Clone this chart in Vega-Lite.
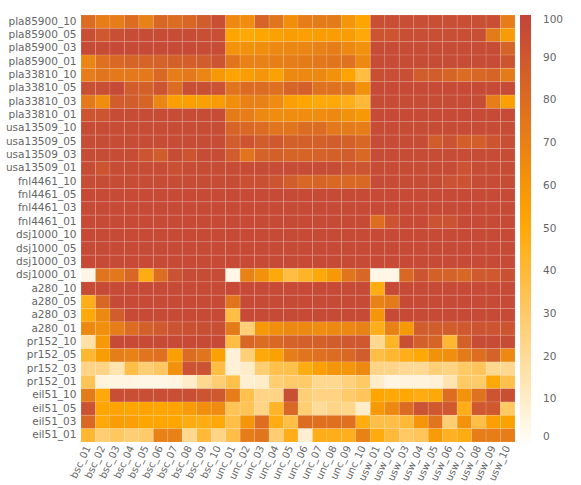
{"$schema":"https://vega.github.io/schema/vega-lite/v6.json","width":434,"height":427,"padding":{"left":5,"top":14,"right":5,"bottom":5},"config":{"view":{"stroke":null},"font":"DejaVu Sans"},
"data":{"values":[
{"r":"pla85900_10","c":"bsc_01","v":80},{"r":"pla85900_10","c":"bsc_02","v":72},{"r":"pla85900_10","c":"bsc_03","v":72},{"r":"pla85900_10","c":"bsc_04","v":80},{"r":"pla85900_10","c":"bsc_05","v":70},{"r":"pla85900_10","c":"bsc_06","v":83},{"r":"pla85900_10","c":"bsc_07","v":80},{"r":"pla85900_10","c":"bsc_08","v":83},{"r":"pla85900_10","c":"bsc_09","v":88},{"r":"pla85900_10","c":"bsc_10","v":95},
{"r":"pla85900_10","c":"unc_01","v":66},{"r":"pla85900_10","c":"unc_02","v":64},{"r":"pla85900_10","c":"unc_03","v":84},{"r":"pla85900_10","c":"unc_04","v":76},{"r":"pla85900_10","c":"unc_05","v":63},{"r":"pla85900_10","c":"unc_06","v":72},{"r":"pla85900_10","c":"unc_07","v":73},{"r":"pla85900_10","c":"unc_08","v":73},{"r":"pla85900_10","c":"unc_09","v":60},{"r":"pla85900_10","c":"unc_10","v":52},
{"r":"pla85900_10","c":"usw_01","v":95},{"r":"pla85900_10","c":"usw_02","v":95},{"r":"pla85900_10","c":"usw_03","v":95},{"r":"pla85900_10","c":"usw_04","v":95},{"r":"pla85900_10","c":"usw_05","v":95},{"r":"pla85900_10","c":"usw_06","v":95},{"r":"pla85900_10","c":"usw_07","v":95},{"r":"pla85900_10","c":"usw_08","v":95},{"r":"pla85900_10","c":"usw_09","v":95},{"r":"pla85900_10","c":"usw_10","v":72},
{"r":"pla85900_05","c":"bsc_01","v":95},{"r":"pla85900_05","c":"bsc_02","v":90},{"r":"pla85900_05","c":"bsc_03","v":95},{"r":"pla85900_05","c":"bsc_04","v":96},{"r":"pla85900_05","c":"bsc_05","v":96},{"r":"pla85900_05","c":"bsc_06","v":96},{"r":"pla85900_05","c":"bsc_07","v":96},{"r":"pla85900_05","c":"bsc_08","v":96},{"r":"pla85900_05","c":"bsc_09","v":95},{"r":"pla85900_05","c":"bsc_10","v":95},
{"r":"pla85900_05","c":"unc_01","v":52},{"r":"pla85900_05","c":"unc_02","v":50},{"r":"pla85900_05","c":"unc_03","v":52},{"r":"pla85900_05","c":"unc_04","v":54},{"r":"pla85900_05","c":"unc_05","v":56},{"r":"pla85900_05","c":"unc_06","v":55},{"r":"pla85900_05","c":"unc_07","v":56},{"r":"pla85900_05","c":"unc_08","v":56},{"r":"pla85900_05","c":"unc_09","v":56},{"r":"pla85900_05","c":"unc_10","v":50},
{"r":"pla85900_05","c":"usw_01","v":92},{"r":"pla85900_05","c":"usw_02","v":92},{"r":"pla85900_05","c":"usw_03","v":95},{"r":"pla85900_05","c":"usw_04","v":95},{"r":"pla85900_05","c":"usw_05","v":95},{"r":"pla85900_05","c":"usw_06","v":95},{"r":"pla85900_05","c":"usw_07","v":95},{"r":"pla85900_05","c":"usw_08","v":95},{"r":"pla85900_05","c":"usw_09","v":73},{"r":"pla85900_05","c":"usw_10","v":57},
{"r":"pla85900_03","c":"bsc_01","v":97},{"r":"pla85900_03","c":"bsc_02","v":96},{"r":"pla85900_03","c":"bsc_03","v":97},{"r":"pla85900_03","c":"bsc_04","v":97},{"r":"pla85900_03","c":"bsc_05","v":97},{"r":"pla85900_03","c":"bsc_06","v":97},{"r":"pla85900_03","c":"bsc_07","v":97},{"r":"pla85900_03","c":"bsc_08","v":97},{"r":"pla85900_03","c":"bsc_09","v":96},{"r":"pla85900_03","c":"bsc_10","v":96},
{"r":"pla85900_03","c":"unc_01","v":61},{"r":"pla85900_03","c":"unc_02","v":62},{"r":"pla85900_03","c":"unc_03","v":63},{"r":"pla85900_03","c":"unc_04","v":66},{"r":"pla85900_03","c":"unc_05","v":67},{"r":"pla85900_03","c":"unc_06","v":68},{"r":"pla85900_03","c":"unc_07","v":70},{"r":"pla85900_03","c":"unc_08","v":72},{"r":"pla85900_03","c":"unc_09","v":66},{"r":"pla85900_03","c":"unc_10","v":62},
{"r":"pla85900_03","c":"usw_01","v":96},{"r":"pla85900_03","c":"usw_02","v":96},{"r":"pla85900_03","c":"usw_03","v":96},{"r":"pla85900_03","c":"usw_04","v":96},{"r":"pla85900_03","c":"usw_05","v":96},{"r":"pla85900_03","c":"usw_06","v":96},{"r":"pla85900_03","c":"usw_07","v":96},{"r":"pla85900_03","c":"usw_08","v":96},{"r":"pla85900_03","c":"usw_09","v":96},{"r":"pla85900_03","c":"usw_10","v":84},
{"r":"pla85900_01","c":"bsc_01","v":68},{"r":"pla85900_01","c":"bsc_02","v":78},{"r":"pla85900_01","c":"bsc_03","v":82},{"r":"pla85900_01","c":"bsc_04","v":84},{"r":"pla85900_01","c":"bsc_05","v":84},{"r":"pla85900_01","c":"bsc_06","v":85},{"r":"pla85900_01","c":"bsc_07","v":86},{"r":"pla85900_01","c":"bsc_08","v":87},{"r":"pla85900_01","c":"bsc_09","v":88},{"r":"pla85900_01","c":"bsc_10","v":92},
{"r":"pla85900_01","c":"unc_01","v":76},{"r":"pla85900_01","c":"unc_02","v":70},{"r":"pla85900_01","c":"unc_03","v":70},{"r":"pla85900_01","c":"unc_04","v":71},{"r":"pla85900_01","c":"unc_05","v":72},{"r":"pla85900_01","c":"unc_06","v":73},{"r":"pla85900_01","c":"unc_07","v":75},{"r":"pla85900_01","c":"unc_08","v":76},{"r":"pla85900_01","c":"unc_09","v":77},{"r":"pla85900_01","c":"unc_10","v":66},
{"r":"pla85900_01","c":"usw_01","v":96},{"r":"pla85900_01","c":"usw_02","v":96},{"r":"pla85900_01","c":"usw_03","v":96},{"r":"pla85900_01","c":"usw_04","v":96},{"r":"pla85900_01","c":"usw_05","v":96},{"r":"pla85900_01","c":"usw_06","v":96},{"r":"pla85900_01","c":"usw_07","v":96},{"r":"pla85900_01","c":"usw_08","v":96},{"r":"pla85900_01","c":"usw_09","v":96},{"r":"pla85900_01","c":"usw_10","v":92},
{"r":"pla33810_10","c":"bsc_01","v":72},{"r":"pla33810_10","c":"bsc_02","v":76},{"r":"pla33810_10","c":"bsc_03","v":74},{"r":"pla33810_10","c":"bsc_04","v":74},{"r":"pla33810_10","c":"bsc_05","v":74},{"r":"pla33810_10","c":"bsc_06","v":82},{"r":"pla33810_10","c":"bsc_07","v":72},{"r":"pla33810_10","c":"bsc_08","v":74},{"r":"pla33810_10","c":"bsc_09","v":68},{"r":"pla33810_10","c":"bsc_10","v":58},
{"r":"pla33810_10","c":"unc_01","v":53},{"r":"pla33810_10","c":"unc_02","v":56},{"r":"pla33810_10","c":"unc_03","v":60},{"r":"pla33810_10","c":"unc_04","v":54},{"r":"pla33810_10","c":"unc_05","v":66},{"r":"pla33810_10","c":"unc_06","v":66},{"r":"pla33810_10","c":"unc_07","v":66},{"r":"pla33810_10","c":"unc_08","v":62},{"r":"pla33810_10","c":"unc_09","v":53},{"r":"pla33810_10","c":"unc_10","v":38},
{"r":"pla33810_10","c":"usw_01","v":95},{"r":"pla33810_10","c":"usw_02","v":95},{"r":"pla33810_10","c":"usw_03","v":95},{"r":"pla33810_10","c":"usw_04","v":88},{"r":"pla33810_10","c":"usw_05","v":88},{"r":"pla33810_10","c":"usw_06","v":84},{"r":"pla33810_10","c":"usw_07","v":80},{"r":"pla33810_10","c":"usw_08","v":83},{"r":"pla33810_10","c":"usw_09","v":84},{"r":"pla33810_10","c":"usw_10","v":73},
{"r":"pla33810_05","c":"bsc_01","v":95},{"r":"pla33810_05","c":"bsc_02","v":95},{"r":"pla33810_05","c":"bsc_03","v":97},{"r":"pla33810_05","c":"bsc_04","v":88},{"r":"pla33810_05","c":"bsc_05","v":86},{"r":"pla33810_05","c":"bsc_06","v":92},{"r":"pla33810_05","c":"bsc_07","v":80},{"r":"pla33810_05","c":"bsc_08","v":95},{"r":"pla33810_05","c":"bsc_09","v":95},{"r":"pla33810_05","c":"bsc_10","v":93},
{"r":"pla33810_05","c":"unc_01","v":76},{"r":"pla33810_05","c":"unc_02","v":80},{"r":"pla33810_05","c":"unc_03","v":80},{"r":"pla33810_05","c":"unc_04","v":78},{"r":"pla33810_05","c":"unc_05","v":84},{"r":"pla33810_05","c":"unc_06","v":86},{"r":"pla33810_05","c":"unc_07","v":77},{"r":"pla33810_05","c":"unc_08","v":77},{"r":"pla33810_05","c":"unc_09","v":76},{"r":"pla33810_05","c":"unc_10","v":62},
{"r":"pla33810_05","c":"usw_01","v":97},{"r":"pla33810_05","c":"usw_02","v":97},{"r":"pla33810_05","c":"usw_03","v":97},{"r":"pla33810_05","c":"usw_04","v":97},{"r":"pla33810_05","c":"usw_05","v":97},{"r":"pla33810_05","c":"usw_06","v":97},{"r":"pla33810_05","c":"usw_07","v":97},{"r":"pla33810_05","c":"usw_08","v":97},{"r":"pla33810_05","c":"usw_09","v":97},{"r":"pla33810_05","c":"usw_10","v":97},
{"r":"pla33810_03","c":"bsc_01","v":74},{"r":"pla33810_03","c":"bsc_02","v":64},{"r":"pla33810_03","c":"bsc_03","v":88},{"r":"pla33810_03","c":"bsc_04","v":88},{"r":"pla33810_03","c":"bsc_05","v":84},{"r":"pla33810_03","c":"bsc_06","v":68},{"r":"pla33810_03","c":"bsc_07","v":55},{"r":"pla33810_03","c":"bsc_08","v":55},{"r":"pla33810_03","c":"bsc_09","v":55},{"r":"pla33810_03","c":"bsc_10","v":57},
{"r":"pla33810_03","c":"unc_01","v":63},{"r":"pla33810_03","c":"unc_02","v":70},{"r":"pla33810_03","c":"unc_03","v":70},{"r":"pla33810_03","c":"unc_04","v":65},{"r":"pla33810_03","c":"unc_05","v":55},{"r":"pla33810_03","c":"unc_06","v":52},{"r":"pla33810_03","c":"unc_07","v":50},{"r":"pla33810_03","c":"unc_08","v":50},{"r":"pla33810_03","c":"unc_09","v":47},{"r":"pla33810_03","c":"unc_10","v":40},
{"r":"pla33810_03","c":"usw_01","v":96},{"r":"pla33810_03","c":"usw_02","v":96},{"r":"pla33810_03","c":"usw_03","v":96},{"r":"pla33810_03","c":"usw_04","v":96},{"r":"pla33810_03","c":"usw_05","v":96},{"r":"pla33810_03","c":"usw_06","v":96},{"r":"pla33810_03","c":"usw_07","v":96},{"r":"pla33810_03","c":"usw_08","v":96},{"r":"pla33810_03","c":"usw_09","v":72},{"r":"pla33810_03","c":"usw_10","v":55},
{"r":"pla33810_01","c":"bsc_01","v":92},{"r":"pla33810_01","c":"bsc_02","v":92},{"r":"pla33810_01","c":"bsc_03","v":96},{"r":"pla33810_01","c":"bsc_04","v":96},{"r":"pla33810_01","c":"bsc_05","v":96},{"r":"pla33810_01","c":"bsc_06","v":96},{"r":"pla33810_01","c":"bsc_07","v":96},{"r":"pla33810_01","c":"bsc_08","v":96},{"r":"pla33810_01","c":"bsc_09","v":96},{"r":"pla33810_01","c":"bsc_10","v":96},
{"r":"pla33810_01","c":"unc_01","v":73},{"r":"pla33810_01","c":"unc_02","v":72},{"r":"pla33810_01","c":"unc_03","v":66},{"r":"pla33810_01","c":"unc_04","v":64},{"r":"pla33810_01","c":"unc_05","v":64},{"r":"pla33810_01","c":"unc_06","v":64},{"r":"pla33810_01","c":"unc_07","v":64},{"r":"pla33810_01","c":"unc_08","v":66},{"r":"pla33810_01","c":"unc_09","v":62},{"r":"pla33810_01","c":"unc_10","v":58},
{"r":"pla33810_01","c":"usw_01","v":97},{"r":"pla33810_01","c":"usw_02","v":97},{"r":"pla33810_01","c":"usw_03","v":97},{"r":"pla33810_01","c":"usw_04","v":97},{"r":"pla33810_01","c":"usw_05","v":97},{"r":"pla33810_01","c":"usw_06","v":97},{"r":"pla33810_01","c":"usw_07","v":97},{"r":"pla33810_01","c":"usw_08","v":97},{"r":"pla33810_01","c":"usw_09","v":97},{"r":"pla33810_01","c":"usw_10","v":97},
{"r":"usa13509_10","c":"bsc_01","v":96},{"r":"usa13509_10","c":"bsc_02","v":96},{"r":"usa13509_10","c":"bsc_03","v":96},{"r":"usa13509_10","c":"bsc_04","v":96},{"r":"usa13509_10","c":"bsc_05","v":96},{"r":"usa13509_10","c":"bsc_06","v":96},{"r":"usa13509_10","c":"bsc_07","v":96},{"r":"usa13509_10","c":"bsc_08","v":96},{"r":"usa13509_10","c":"bsc_09","v":96},{"r":"usa13509_10","c":"bsc_10","v":96},
{"r":"usa13509_10","c":"unc_01","v":84},{"r":"usa13509_10","c":"unc_02","v":82},{"r":"usa13509_10","c":"unc_03","v":80},{"r":"usa13509_10","c":"unc_04","v":76},{"r":"usa13509_10","c":"unc_05","v":76},{"r":"usa13509_10","c":"unc_06","v":80},{"r":"usa13509_10","c":"unc_07","v":80},{"r":"usa13509_10","c":"unc_08","v":74},{"r":"usa13509_10","c":"unc_09","v":73},{"r":"usa13509_10","c":"unc_10","v":72},
{"r":"usa13509_10","c":"usw_01","v":96},{"r":"usa13509_10","c":"usw_02","v":96},{"r":"usa13509_10","c":"usw_03","v":96},{"r":"usa13509_10","c":"usw_04","v":96},{"r":"usa13509_10","c":"usw_05","v":96},{"r":"usa13509_10","c":"usw_06","v":96},{"r":"usa13509_10","c":"usw_07","v":96},{"r":"usa13509_10","c":"usw_08","v":96},{"r":"usa13509_10","c":"usw_09","v":96},{"r":"usa13509_10","c":"usw_10","v":96},
{"r":"usa13509_05","c":"bsc_01","v":96},{"r":"usa13509_05","c":"bsc_02","v":96},{"r":"usa13509_05","c":"bsc_03","v":96},{"r":"usa13509_05","c":"bsc_04","v":96},{"r":"usa13509_05","c":"bsc_05","v":96},{"r":"usa13509_05","c":"bsc_06","v":96},{"r":"usa13509_05","c":"bsc_07","v":96},{"r":"usa13509_05","c":"bsc_08","v":96},{"r":"usa13509_05","c":"bsc_09","v":96},{"r":"usa13509_05","c":"bsc_10","v":96},
{"r":"usa13509_05","c":"unc_01","v":88},{"r":"usa13509_05","c":"unc_02","v":92},{"r":"usa13509_05","c":"unc_03","v":88},{"r":"usa13509_05","c":"unc_04","v":90},{"r":"usa13509_05","c":"unc_05","v":86},{"r":"usa13509_05","c":"unc_06","v":86},{"r":"usa13509_05","c":"unc_07","v":86},{"r":"usa13509_05","c":"unc_08","v":88},{"r":"usa13509_05","c":"unc_09","v":86},{"r":"usa13509_05","c":"unc_10","v":83},
{"r":"usa13509_05","c":"usw_01","v":96},{"r":"usa13509_05","c":"usw_02","v":96},{"r":"usa13509_05","c":"usw_03","v":96},{"r":"usa13509_05","c":"usw_04","v":96},{"r":"usa13509_05","c":"usw_05","v":88},{"r":"usa13509_05","c":"usw_06","v":93},{"r":"usa13509_05","c":"usw_07","v":87},{"r":"usa13509_05","c":"usw_08","v":87},{"r":"usa13509_05","c":"usw_09","v":92},{"r":"usa13509_05","c":"usw_10","v":95},
{"r":"usa13509_03","c":"bsc_01","v":96},{"r":"usa13509_03","c":"bsc_02","v":96},{"r":"usa13509_03","c":"bsc_03","v":96},{"r":"usa13509_03","c":"bsc_04","v":96},{"r":"usa13509_03","c":"bsc_05","v":92},{"r":"usa13509_03","c":"bsc_06","v":88},{"r":"usa13509_03","c":"bsc_07","v":96},{"r":"usa13509_03","c":"bsc_08","v":92},{"r":"usa13509_03","c":"bsc_09","v":96},{"r":"usa13509_03","c":"bsc_10","v":96},
{"r":"usa13509_03","c":"unc_01","v":88},{"r":"usa13509_03","c":"unc_02","v":76},{"r":"usa13509_03","c":"unc_03","v":85},{"r":"usa13509_03","c":"unc_04","v":86},{"r":"usa13509_03","c":"unc_05","v":84},{"r":"usa13509_03","c":"unc_06","v":84},{"r":"usa13509_03","c":"unc_07","v":85},{"r":"usa13509_03","c":"unc_08","v":86},{"r":"usa13509_03","c":"unc_09","v":88},{"r":"usa13509_03","c":"unc_10","v":82},
{"r":"usa13509_03","c":"usw_01","v":96},{"r":"usa13509_03","c":"usw_02","v":96},{"r":"usa13509_03","c":"usw_03","v":96},{"r":"usa13509_03","c":"usw_04","v":96},{"r":"usa13509_03","c":"usw_05","v":96},{"r":"usa13509_03","c":"usw_06","v":96},{"r":"usa13509_03","c":"usw_07","v":96},{"r":"usa13509_03","c":"usw_08","v":96},{"r":"usa13509_03","c":"usw_09","v":96},{"r":"usa13509_03","c":"usw_10","v":96},
{"r":"usa13509_01","c":"bsc_01","v":96},{"r":"usa13509_01","c":"bsc_02","v":92},{"r":"usa13509_01","c":"bsc_03","v":96},{"r":"usa13509_01","c":"bsc_04","v":96},{"r":"usa13509_01","c":"bsc_05","v":96},{"r":"usa13509_01","c":"bsc_06","v":96},{"r":"usa13509_01","c":"bsc_07","v":94},{"r":"usa13509_01","c":"bsc_08","v":96},{"r":"usa13509_01","c":"bsc_09","v":96},{"r":"usa13509_01","c":"bsc_10","v":96},
{"r":"usa13509_01","c":"unc_01","v":96},{"r":"usa13509_01","c":"unc_02","v":96},{"r":"usa13509_01","c":"unc_03","v":96},{"r":"usa13509_01","c":"unc_04","v":96},{"r":"usa13509_01","c":"unc_05","v":96},{"r":"usa13509_01","c":"unc_06","v":96},{"r":"usa13509_01","c":"unc_07","v":96},{"r":"usa13509_01","c":"unc_08","v":96},{"r":"usa13509_01","c":"unc_09","v":92},{"r":"usa13509_01","c":"unc_10","v":92},
{"r":"usa13509_01","c":"usw_01","v":96},{"r":"usa13509_01","c":"usw_02","v":96},{"r":"usa13509_01","c":"usw_03","v":96},{"r":"usa13509_01","c":"usw_04","v":96},{"r":"usa13509_01","c":"usw_05","v":96},{"r":"usa13509_01","c":"usw_06","v":96},{"r":"usa13509_01","c":"usw_07","v":93},{"r":"usa13509_01","c":"usw_08","v":96},{"r":"usa13509_01","c":"usw_09","v":96},{"r":"usa13509_01","c":"usw_10","v":96},
{"r":"fnl4461_10","c":"bsc_01","v":96},{"r":"fnl4461_10","c":"bsc_02","v":96},{"r":"fnl4461_10","c":"bsc_03","v":96},{"r":"fnl4461_10","c":"bsc_04","v":96},{"r":"fnl4461_10","c":"bsc_05","v":96},{"r":"fnl4461_10","c":"bsc_06","v":96},{"r":"fnl4461_10","c":"bsc_07","v":96},{"r":"fnl4461_10","c":"bsc_08","v":96},{"r":"fnl4461_10","c":"bsc_09","v":96},{"r":"fnl4461_10","c":"bsc_10","v":96},
{"r":"fnl4461_10","c":"unc_01","v":96},{"r":"fnl4461_10","c":"unc_02","v":94},{"r":"fnl4461_10","c":"unc_03","v":94},{"r":"fnl4461_10","c":"unc_04","v":92},{"r":"fnl4461_10","c":"unc_05","v":88},{"r":"fnl4461_10","c":"unc_06","v":83},{"r":"fnl4461_10","c":"unc_07","v":84},{"r":"fnl4461_10","c":"unc_08","v":82},{"r":"fnl4461_10","c":"unc_09","v":82},{"r":"fnl4461_10","c":"unc_10","v":82},
{"r":"fnl4461_10","c":"usw_01","v":96},{"r":"fnl4461_10","c":"usw_02","v":96},{"r":"fnl4461_10","c":"usw_03","v":96},{"r":"fnl4461_10","c":"usw_04","v":96},{"r":"fnl4461_10","c":"usw_05","v":96},{"r":"fnl4461_10","c":"usw_06","v":93},{"r":"fnl4461_10","c":"usw_07","v":93},{"r":"fnl4461_10","c":"usw_08","v":96},{"r":"fnl4461_10","c":"usw_09","v":96},{"r":"fnl4461_10","c":"usw_10","v":96},
{"r":"fnl4461_05","c":"bsc_01","v":97},{"r":"fnl4461_05","c":"bsc_02","v":97},{"r":"fnl4461_05","c":"bsc_03","v":97},{"r":"fnl4461_05","c":"bsc_04","v":97},{"r":"fnl4461_05","c":"bsc_05","v":97},{"r":"fnl4461_05","c":"bsc_06","v":97},{"r":"fnl4461_05","c":"bsc_07","v":97},{"r":"fnl4461_05","c":"bsc_08","v":97},{"r":"fnl4461_05","c":"bsc_09","v":97},{"r":"fnl4461_05","c":"bsc_10","v":97},
{"r":"fnl4461_05","c":"unc_01","v":97},{"r":"fnl4461_05","c":"unc_02","v":97},{"r":"fnl4461_05","c":"unc_03","v":97},{"r":"fnl4461_05","c":"unc_04","v":97},{"r":"fnl4461_05","c":"unc_05","v":97},{"r":"fnl4461_05","c":"unc_06","v":97},{"r":"fnl4461_05","c":"unc_07","v":97},{"r":"fnl4461_05","c":"unc_08","v":97},{"r":"fnl4461_05","c":"unc_09","v":97},{"r":"fnl4461_05","c":"unc_10","v":97},
{"r":"fnl4461_05","c":"usw_01","v":97},{"r":"fnl4461_05","c":"usw_02","v":97},{"r":"fnl4461_05","c":"usw_03","v":97},{"r":"fnl4461_05","c":"usw_04","v":97},{"r":"fnl4461_05","c":"usw_05","v":97},{"r":"fnl4461_05","c":"usw_06","v":97},{"r":"fnl4461_05","c":"usw_07","v":97},{"r":"fnl4461_05","c":"usw_08","v":97},{"r":"fnl4461_05","c":"usw_09","v":97},{"r":"fnl4461_05","c":"usw_10","v":97},
{"r":"fnl4461_03","c":"bsc_01","v":97},{"r":"fnl4461_03","c":"bsc_02","v":97},{"r":"fnl4461_03","c":"bsc_03","v":97},{"r":"fnl4461_03","c":"bsc_04","v":97},{"r":"fnl4461_03","c":"bsc_05","v":97},{"r":"fnl4461_03","c":"bsc_06","v":97},{"r":"fnl4461_03","c":"bsc_07","v":97},{"r":"fnl4461_03","c":"bsc_08","v":97},{"r":"fnl4461_03","c":"bsc_09","v":97},{"r":"fnl4461_03","c":"bsc_10","v":97},
{"r":"fnl4461_03","c":"unc_01","v":97},{"r":"fnl4461_03","c":"unc_02","v":97},{"r":"fnl4461_03","c":"unc_03","v":97},{"r":"fnl4461_03","c":"unc_04","v":97},{"r":"fnl4461_03","c":"unc_05","v":97},{"r":"fnl4461_03","c":"unc_06","v":97},{"r":"fnl4461_03","c":"unc_07","v":97},{"r":"fnl4461_03","c":"unc_08","v":97},{"r":"fnl4461_03","c":"unc_09","v":97},{"r":"fnl4461_03","c":"unc_10","v":97},
{"r":"fnl4461_03","c":"usw_01","v":97},{"r":"fnl4461_03","c":"usw_02","v":97},{"r":"fnl4461_03","c":"usw_03","v":97},{"r":"fnl4461_03","c":"usw_04","v":97},{"r":"fnl4461_03","c":"usw_05","v":97},{"r":"fnl4461_03","c":"usw_06","v":97},{"r":"fnl4461_03","c":"usw_07","v":97},{"r":"fnl4461_03","c":"usw_08","v":97},{"r":"fnl4461_03","c":"usw_09","v":97},{"r":"fnl4461_03","c":"usw_10","v":97},
{"r":"fnl4461_01","c":"bsc_01","v":97},{"r":"fnl4461_01","c":"bsc_02","v":97},{"r":"fnl4461_01","c":"bsc_03","v":97},{"r":"fnl4461_01","c":"bsc_04","v":97},{"r":"fnl4461_01","c":"bsc_05","v":97},{"r":"fnl4461_01","c":"bsc_06","v":97},{"r":"fnl4461_01","c":"bsc_07","v":97},{"r":"fnl4461_01","c":"bsc_08","v":97},{"r":"fnl4461_01","c":"bsc_09","v":97},{"r":"fnl4461_01","c":"bsc_10","v":97},
{"r":"fnl4461_01","c":"unc_01","v":97},{"r":"fnl4461_01","c":"unc_02","v":97},{"r":"fnl4461_01","c":"unc_03","v":97},{"r":"fnl4461_01","c":"unc_04","v":97},{"r":"fnl4461_01","c":"unc_05","v":97},{"r":"fnl4461_01","c":"unc_06","v":97},{"r":"fnl4461_01","c":"unc_07","v":97},{"r":"fnl4461_01","c":"unc_08","v":97},{"r":"fnl4461_01","c":"unc_09","v":97},{"r":"fnl4461_01","c":"unc_10","v":97},
{"r":"fnl4461_01","c":"usw_01","v":79},{"r":"fnl4461_01","c":"usw_02","v":92},{"r":"fnl4461_01","c":"usw_03","v":97},{"r":"fnl4461_01","c":"usw_04","v":97},{"r":"fnl4461_01","c":"usw_05","v":93},{"r":"fnl4461_01","c":"usw_06","v":93},{"r":"fnl4461_01","c":"usw_07","v":97},{"r":"fnl4461_01","c":"usw_08","v":97},{"r":"fnl4461_01","c":"usw_09","v":97},{"r":"fnl4461_01","c":"usw_10","v":97},
{"r":"dsj1000_10","c":"bsc_01","v":97},{"r":"dsj1000_10","c":"bsc_02","v":97},{"r":"dsj1000_10","c":"bsc_03","v":97},{"r":"dsj1000_10","c":"bsc_04","v":97},{"r":"dsj1000_10","c":"bsc_05","v":97},{"r":"dsj1000_10","c":"bsc_06","v":97},{"r":"dsj1000_10","c":"bsc_07","v":97},{"r":"dsj1000_10","c":"bsc_08","v":97},{"r":"dsj1000_10","c":"bsc_09","v":97},{"r":"dsj1000_10","c":"bsc_10","v":97},
{"r":"dsj1000_10","c":"unc_01","v":97},{"r":"dsj1000_10","c":"unc_02","v":97},{"r":"dsj1000_10","c":"unc_03","v":97},{"r":"dsj1000_10","c":"unc_04","v":97},{"r":"dsj1000_10","c":"unc_05","v":97},{"r":"dsj1000_10","c":"unc_06","v":97},{"r":"dsj1000_10","c":"unc_07","v":97},{"r":"dsj1000_10","c":"unc_08","v":97},{"r":"dsj1000_10","c":"unc_09","v":97},{"r":"dsj1000_10","c":"unc_10","v":97},
{"r":"dsj1000_10","c":"usw_01","v":97},{"r":"dsj1000_10","c":"usw_02","v":97},{"r":"dsj1000_10","c":"usw_03","v":97},{"r":"dsj1000_10","c":"usw_04","v":97},{"r":"dsj1000_10","c":"usw_05","v":97},{"r":"dsj1000_10","c":"usw_06","v":97},{"r":"dsj1000_10","c":"usw_07","v":97},{"r":"dsj1000_10","c":"usw_08","v":97},{"r":"dsj1000_10","c":"usw_09","v":97},{"r":"dsj1000_10","c":"usw_10","v":97},
{"r":"dsj1000_05","c":"bsc_01","v":97},{"r":"dsj1000_05","c":"bsc_02","v":97},{"r":"dsj1000_05","c":"bsc_03","v":97},{"r":"dsj1000_05","c":"bsc_04","v":97},{"r":"dsj1000_05","c":"bsc_05","v":97},{"r":"dsj1000_05","c":"bsc_06","v":97},{"r":"dsj1000_05","c":"bsc_07","v":97},{"r":"dsj1000_05","c":"bsc_08","v":97},{"r":"dsj1000_05","c":"bsc_09","v":97},{"r":"dsj1000_05","c":"bsc_10","v":97},
{"r":"dsj1000_05","c":"unc_01","v":97},{"r":"dsj1000_05","c":"unc_02","v":97},{"r":"dsj1000_05","c":"unc_03","v":97},{"r":"dsj1000_05","c":"unc_04","v":97},{"r":"dsj1000_05","c":"unc_05","v":97},{"r":"dsj1000_05","c":"unc_06","v":97},{"r":"dsj1000_05","c":"unc_07","v":97},{"r":"dsj1000_05","c":"unc_08","v":97},{"r":"dsj1000_05","c":"unc_09","v":97},{"r":"dsj1000_05","c":"unc_10","v":97},
{"r":"dsj1000_05","c":"usw_01","v":97},{"r":"dsj1000_05","c":"usw_02","v":97},{"r":"dsj1000_05","c":"usw_03","v":97},{"r":"dsj1000_05","c":"usw_04","v":97},{"r":"dsj1000_05","c":"usw_05","v":97},{"r":"dsj1000_05","c":"usw_06","v":97},{"r":"dsj1000_05","c":"usw_07","v":97},{"r":"dsj1000_05","c":"usw_08","v":97},{"r":"dsj1000_05","c":"usw_09","v":97},{"r":"dsj1000_05","c":"usw_10","v":97},
{"r":"dsj1000_03","c":"bsc_01","v":97},{"r":"dsj1000_03","c":"bsc_02","v":97},{"r":"dsj1000_03","c":"bsc_03","v":97},{"r":"dsj1000_03","c":"bsc_04","v":97},{"r":"dsj1000_03","c":"bsc_05","v":97},{"r":"dsj1000_03","c":"bsc_06","v":97},{"r":"dsj1000_03","c":"bsc_07","v":97},{"r":"dsj1000_03","c":"bsc_08","v":97},{"r":"dsj1000_03","c":"bsc_09","v":97},{"r":"dsj1000_03","c":"bsc_10","v":97},
{"r":"dsj1000_03","c":"unc_01","v":97},{"r":"dsj1000_03","c":"unc_02","v":97},{"r":"dsj1000_03","c":"unc_03","v":97},{"r":"dsj1000_03","c":"unc_04","v":97},{"r":"dsj1000_03","c":"unc_05","v":97},{"r":"dsj1000_03","c":"unc_06","v":97},{"r":"dsj1000_03","c":"unc_07","v":97},{"r":"dsj1000_03","c":"unc_08","v":97},{"r":"dsj1000_03","c":"unc_09","v":97},{"r":"dsj1000_03","c":"unc_10","v":97},
{"r":"dsj1000_03","c":"usw_01","v":97},{"r":"dsj1000_03","c":"usw_02","v":97},{"r":"dsj1000_03","c":"usw_03","v":97},{"r":"dsj1000_03","c":"usw_04","v":97},{"r":"dsj1000_03","c":"usw_05","v":97},{"r":"dsj1000_03","c":"usw_06","v":97},{"r":"dsj1000_03","c":"usw_07","v":97},{"r":"dsj1000_03","c":"usw_08","v":97},{"r":"dsj1000_03","c":"usw_09","v":97},{"r":"dsj1000_03","c":"usw_10","v":97},
{"r":"dsj1000_01","c":"bsc_01","v":4},{"r":"dsj1000_01","c":"bsc_02","v":76},{"r":"dsj1000_01","c":"bsc_03","v":75},{"r":"dsj1000_01","c":"bsc_04","v":83},{"r":"dsj1000_01","c":"bsc_05","v":48},{"r":"dsj1000_01","c":"bsc_06","v":79},{"r":"dsj1000_01","c":"bsc_07","v":93},{"r":"dsj1000_01","c":"bsc_08","v":96},{"r":"dsj1000_01","c":"bsc_09","v":96},{"r":"dsj1000_01","c":"bsc_10","v":96},
{"r":"dsj1000_01","c":"unc_01","v":4},{"r":"dsj1000_01","c":"unc_02","v":70},{"r":"dsj1000_01","c":"unc_03","v":62},{"r":"dsj1000_01","c":"unc_04","v":50},{"r":"dsj1000_01","c":"unc_05","v":38},{"r":"dsj1000_01","c":"unc_06","v":44},{"r":"dsj1000_01","c":"unc_07","v":50},{"r":"dsj1000_01","c":"unc_08","v":58},{"r":"dsj1000_01","c":"unc_09","v":76},{"r":"dsj1000_01","c":"unc_10","v":83},
{"r":"dsj1000_01","c":"usw_01","v":4},{"r":"dsj1000_01","c":"usw_02","v":4},{"r":"dsj1000_01","c":"usw_03","v":82},{"r":"dsj1000_01","c":"usw_04","v":92},{"r":"dsj1000_01","c":"usw_05","v":86},{"r":"dsj1000_01","c":"usw_06","v":85},{"r":"dsj1000_01","c":"usw_07","v":83},{"r":"dsj1000_01","c":"usw_08","v":89},{"r":"dsj1000_01","c":"usw_09","v":90},{"r":"dsj1000_01","c":"usw_10","v":94},
{"r":"a280_10","c":"bsc_01","v":97},{"r":"a280_10","c":"bsc_02","v":97},{"r":"a280_10","c":"bsc_03","v":97},{"r":"a280_10","c":"bsc_04","v":97},{"r":"a280_10","c":"bsc_05","v":97},{"r":"a280_10","c":"bsc_06","v":97},{"r":"a280_10","c":"bsc_07","v":97},{"r":"a280_10","c":"bsc_08","v":97},{"r":"a280_10","c":"bsc_09","v":97},{"r":"a280_10","c":"bsc_10","v":97},
{"r":"a280_10","c":"unc_01","v":97},{"r":"a280_10","c":"unc_02","v":97},{"r":"a280_10","c":"unc_03","v":97},{"r":"a280_10","c":"unc_04","v":97},{"r":"a280_10","c":"unc_05","v":97},{"r":"a280_10","c":"unc_06","v":97},{"r":"a280_10","c":"unc_07","v":97},{"r":"a280_10","c":"unc_08","v":97},{"r":"a280_10","c":"unc_09","v":97},{"r":"a280_10","c":"unc_10","v":97},
{"r":"a280_10","c":"usw_01","v":48},{"r":"a280_10","c":"usw_02","v":97},{"r":"a280_10","c":"usw_03","v":97},{"r":"a280_10","c":"usw_04","v":97},{"r":"a280_10","c":"usw_05","v":97},{"r":"a280_10","c":"usw_06","v":97},{"r":"a280_10","c":"usw_07","v":97},{"r":"a280_10","c":"usw_08","v":97},{"r":"a280_10","c":"usw_09","v":97},{"r":"a280_10","c":"usw_10","v":97},
{"r":"a280_05","c":"bsc_01","v":47},{"r":"a280_05","c":"bsc_02","v":83},{"r":"a280_05","c":"bsc_03","v":97},{"r":"a280_05","c":"bsc_04","v":97},{"r":"a280_05","c":"bsc_05","v":97},{"r":"a280_05","c":"bsc_06","v":97},{"r":"a280_05","c":"bsc_07","v":97},{"r":"a280_05","c":"bsc_08","v":97},{"r":"a280_05","c":"bsc_09","v":97},{"r":"a280_05","c":"bsc_10","v":97},
{"r":"a280_05","c":"unc_01","v":76},{"r":"a280_05","c":"unc_02","v":97},{"r":"a280_05","c":"unc_03","v":97},{"r":"a280_05","c":"unc_04","v":97},{"r":"a280_05","c":"unc_05","v":97},{"r":"a280_05","c":"unc_06","v":97},{"r":"a280_05","c":"unc_07","v":97},{"r":"a280_05","c":"unc_08","v":97},{"r":"a280_05","c":"unc_09","v":97},{"r":"a280_05","c":"unc_10","v":97},
{"r":"a280_05","c":"usw_01","v":70},{"r":"a280_05","c":"usw_02","v":73},{"r":"a280_05","c":"usw_03","v":97},{"r":"a280_05","c":"usw_04","v":97},{"r":"a280_05","c":"usw_05","v":97},{"r":"a280_05","c":"usw_06","v":97},{"r":"a280_05","c":"usw_07","v":97},{"r":"a280_05","c":"usw_08","v":97},{"r":"a280_05","c":"usw_09","v":97},{"r":"a280_05","c":"usw_10","v":97},
{"r":"a280_03","c":"bsc_01","v":50},{"r":"a280_03","c":"bsc_02","v":66},{"r":"a280_03","c":"bsc_03","v":88},{"r":"a280_03","c":"bsc_04","v":97},{"r":"a280_03","c":"bsc_05","v":97},{"r":"a280_03","c":"bsc_06","v":97},{"r":"a280_03","c":"bsc_07","v":97},{"r":"a280_03","c":"bsc_08","v":97},{"r":"a280_03","c":"bsc_09","v":97},{"r":"a280_03","c":"bsc_10","v":97},
{"r":"a280_03","c":"unc_01","v":38},{"r":"a280_03","c":"unc_02","v":97},{"r":"a280_03","c":"unc_03","v":97},{"r":"a280_03","c":"unc_04","v":97},{"r":"a280_03","c":"unc_05","v":97},{"r":"a280_03","c":"unc_06","v":97},{"r":"a280_03","c":"unc_07","v":97},{"r":"a280_03","c":"unc_08","v":97},{"r":"a280_03","c":"unc_09","v":97},{"r":"a280_03","c":"unc_10","v":97},
{"r":"a280_03","c":"usw_01","v":60},{"r":"a280_03","c":"usw_02","v":97},{"r":"a280_03","c":"usw_03","v":97},{"r":"a280_03","c":"usw_04","v":97},{"r":"a280_03","c":"usw_05","v":97},{"r":"a280_03","c":"usw_06","v":97},{"r":"a280_03","c":"usw_07","v":97},{"r":"a280_03","c":"usw_08","v":97},{"r":"a280_03","c":"usw_09","v":97},{"r":"a280_03","c":"usw_10","v":97},
{"r":"a280_01","c":"bsc_01","v":66},{"r":"a280_01","c":"bsc_02","v":63},{"r":"a280_01","c":"bsc_03","v":72},{"r":"a280_01","c":"bsc_04","v":80},{"r":"a280_01","c":"bsc_05","v":86},{"r":"a280_01","c":"bsc_06","v":89},{"r":"a280_01","c":"bsc_07","v":93},{"r":"a280_01","c":"bsc_08","v":94},{"r":"a280_01","c":"bsc_09","v":95},{"r":"a280_01","c":"bsc_10","v":95},
{"r":"a280_01","c":"unc_01","v":73},{"r":"a280_01","c":"unc_02","v":27},{"r":"a280_01","c":"unc_03","v":58},{"r":"a280_01","c":"unc_04","v":63},{"r":"a280_01","c":"unc_05","v":66},{"r":"a280_01","c":"unc_06","v":66},{"r":"a280_01","c":"unc_07","v":64},{"r":"a280_01","c":"unc_08","v":66},{"r":"a280_01","c":"unc_09","v":67},{"r":"a280_01","c":"unc_10","v":70},
{"r":"a280_01","c":"usw_01","v":47},{"r":"a280_01","c":"usw_02","v":70},{"r":"a280_01","c":"usw_03","v":58},{"r":"a280_01","c":"usw_04","v":88},{"r":"a280_01","c":"usw_05","v":88},{"r":"a280_01","c":"usw_06","v":88},{"r":"a280_01","c":"usw_07","v":90},{"r":"a280_01","c":"usw_08","v":92},{"r":"a280_01","c":"usw_09","v":92},{"r":"a280_01","c":"usw_10","v":92},
{"r":"pr152_10","c":"bsc_01","v":17},{"r":"pr152_10","c":"bsc_02","v":58},{"r":"pr152_10","c":"bsc_03","v":97},{"r":"pr152_10","c":"bsc_04","v":97},{"r":"pr152_10","c":"bsc_05","v":97},{"r":"pr152_10","c":"bsc_06","v":97},{"r":"pr152_10","c":"bsc_07","v":97},{"r":"pr152_10","c":"bsc_08","v":97},{"r":"pr152_10","c":"bsc_09","v":97},{"r":"pr152_10","c":"bsc_10","v":97},
{"r":"pr152_10","c":"unc_01","v":38},{"r":"pr152_10","c":"unc_02","v":83},{"r":"pr152_10","c":"unc_03","v":80},{"r":"pr152_10","c":"unc_04","v":82},{"r":"pr152_10","c":"unc_05","v":85},{"r":"pr152_10","c":"unc_06","v":86},{"r":"pr152_10","c":"unc_07","v":86},{"r":"pr152_10","c":"unc_08","v":88},{"r":"pr152_10","c":"unc_09","v":90},{"r":"pr152_10","c":"unc_10","v":90},
{"r":"pr152_10","c":"usw_01","v":22},{"r":"pr152_10","c":"usw_02","v":44},{"r":"pr152_10","c":"usw_03","v":95},{"r":"pr152_10","c":"usw_04","v":86},{"r":"pr152_10","c":"usw_05","v":84},{"r":"pr152_10","c":"usw_06","v":42},{"r":"pr152_10","c":"usw_07","v":86},{"r":"pr152_10","c":"usw_08","v":96},{"r":"pr152_10","c":"usw_09","v":96},{"r":"pr152_10","c":"usw_10","v":96},
{"r":"pr152_05","c":"bsc_01","v":42},{"r":"pr152_05","c":"bsc_02","v":56},{"r":"pr152_05","c":"bsc_03","v":72},{"r":"pr152_05","c":"bsc_04","v":70},{"r":"pr152_05","c":"bsc_05","v":76},{"r":"pr152_05","c":"bsc_06","v":78},{"r":"pr152_05","c":"bsc_07","v":55},{"r":"pr152_05","c":"bsc_08","v":80},{"r":"pr152_05","c":"bsc_09","v":76},{"r":"pr152_05","c":"bsc_10","v":54},
{"r":"pr152_05","c":"unc_01","v":7},{"r":"pr152_05","c":"unc_02","v":27},{"r":"pr152_05","c":"unc_03","v":50},{"r":"pr152_05","c":"unc_04","v":54},{"r":"pr152_05","c":"unc_05","v":72},{"r":"pr152_05","c":"unc_06","v":76},{"r":"pr152_05","c":"unc_07","v":78},{"r":"pr152_05","c":"unc_08","v":80},{"r":"pr152_05","c":"unc_09","v":82},{"r":"pr152_05","c":"unc_10","v":88},
{"r":"pr152_05","c":"usw_01","v":37},{"r":"pr152_05","c":"usw_02","v":42},{"r":"pr152_05","c":"usw_03","v":47},{"r":"pr152_05","c":"usw_04","v":51},{"r":"pr152_05","c":"usw_05","v":62},{"r":"pr152_05","c":"usw_06","v":63},{"r":"pr152_05","c":"usw_07","v":73},{"r":"pr152_05","c":"usw_08","v":79},{"r":"pr152_05","c":"usw_09","v":85},{"r":"pr152_05","c":"usw_10","v":66},
{"r":"pr152_03","c":"bsc_01","v":24},{"r":"pr152_03","c":"bsc_02","v":24},{"r":"pr152_03","c":"bsc_03","v":15},{"r":"pr152_03","c":"bsc_04","v":37},{"r":"pr152_03","c":"bsc_05","v":28},{"r":"pr152_03","c":"bsc_06","v":32},{"r":"pr152_03","c":"bsc_07","v":62},{"r":"pr152_03","c":"bsc_08","v":93},{"r":"pr152_03","c":"bsc_09","v":93},{"r":"pr152_03","c":"bsc_10","v":38},
{"r":"pr152_03","c":"unc_01","v":7},{"r":"pr152_03","c":"unc_02","v":10},{"r":"pr152_03","c":"unc_03","v":28},{"r":"pr152_03","c":"unc_04","v":36},{"r":"pr152_03","c":"unc_05","v":36},{"r":"pr152_03","c":"unc_06","v":48},{"r":"pr152_03","c":"unc_07","v":55},{"r":"pr152_03","c":"unc_08","v":60},{"r":"pr152_03","c":"unc_09","v":60},{"r":"pr152_03","c":"unc_10","v":66},
{"r":"pr152_03","c":"usw_01","v":24},{"r":"pr152_03","c":"usw_02","v":24},{"r":"pr152_03","c":"usw_03","v":21},{"r":"pr152_03","c":"usw_04","v":21},{"r":"pr152_03","c":"usw_05","v":27},{"r":"pr152_03","c":"usw_06","v":25},{"r":"pr152_03","c":"usw_07","v":31},{"r":"pr152_03","c":"usw_08","v":33},{"r":"pr152_03","c":"usw_09","v":22},{"r":"pr152_03","c":"usw_10","v":22},
{"r":"pr152_01","c":"bsc_01","v":34},{"r":"pr152_01","c":"bsc_02","v":6},{"r":"pr152_01","c":"bsc_03","v":5},{"r":"pr152_01","c":"bsc_04","v":5},{"r":"pr152_01","c":"bsc_05","v":4},{"r":"pr152_01","c":"bsc_06","v":4},{"r":"pr152_01","c":"bsc_07","v":5},{"r":"pr152_01","c":"bsc_08","v":10},{"r":"pr152_01","c":"bsc_09","v":22},{"r":"pr152_01","c":"bsc_10","v":28},
{"r":"pr152_01","c":"unc_01","v":36},{"r":"pr152_01","c":"unc_02","v":8},{"r":"pr152_01","c":"unc_03","v":10},{"r":"pr152_01","c":"unc_04","v":28},{"r":"pr152_01","c":"unc_05","v":30},{"r":"pr152_01","c":"unc_06","v":30},{"r":"pr152_01","c":"unc_07","v":22},{"r":"pr152_01","c":"unc_08","v":22},{"r":"pr152_01","c":"unc_09","v":26},{"r":"pr152_01","c":"unc_10","v":31},
{"r":"pr152_01","c":"usw_01","v":10},{"r":"pr152_01","c":"usw_02","v":5},{"r":"pr152_01","c":"usw_03","v":6},{"r":"pr152_01","c":"usw_04","v":6},{"r":"pr152_01","c":"usw_05","v":7},{"r":"pr152_01","c":"usw_06","v":15},{"r":"pr152_01","c":"usw_07","v":31},{"r":"pr152_01","c":"usw_08","v":30},{"r":"pr152_01","c":"usw_09","v":50},{"r":"pr152_01","c":"usw_10","v":36},
{"r":"eil51_10","c":"bsc_01","v":73},{"r":"eil51_10","c":"bsc_02","v":50},{"r":"eil51_10","c":"bsc_03","v":95},{"r":"eil51_10","c":"bsc_04","v":95},{"r":"eil51_10","c":"bsc_05","v":95},{"r":"eil51_10","c":"bsc_06","v":95},{"r":"eil51_10","c":"bsc_07","v":95},{"r":"eil51_10","c":"bsc_08","v":95},{"r":"eil51_10","c":"bsc_09","v":92},{"r":"eil51_10","c":"bsc_10","v":90},
{"r":"eil51_10","c":"unc_01","v":72},{"r":"eil51_10","c":"unc_02","v":36},{"r":"eil51_10","c":"unc_03","v":24},{"r":"eil51_10","c":"unc_04","v":24},{"r":"eil51_10","c":"unc_05","v":95},{"r":"eil51_10","c":"unc_06","v":27},{"r":"eil51_10","c":"unc_07","v":25},{"r":"eil51_10","c":"unc_08","v":25},{"r":"eil51_10","c":"unc_09","v":30},{"r":"eil51_10","c":"unc_10","v":33},
{"r":"eil51_10","c":"usw_01","v":52},{"r":"eil51_10","c":"usw_02","v":50},{"r":"eil51_10","c":"usw_03","v":51},{"r":"eil51_10","c":"usw_04","v":48},{"r":"eil51_10","c":"usw_05","v":50},{"r":"eil51_10","c":"usw_06","v":79},{"r":"eil51_10","c":"usw_07","v":61},{"r":"eil51_10","c":"usw_08","v":77},{"r":"eil51_10","c":"usw_09","v":92},{"r":"eil51_10","c":"usw_10","v":95},
{"r":"eil51_05","c":"bsc_01","v":93},{"r":"eil51_05","c":"bsc_02","v":52},{"r":"eil51_05","c":"bsc_03","v":53},{"r":"eil51_05","c":"bsc_04","v":52},{"r":"eil51_05","c":"bsc_05","v":53},{"r":"eil51_05","c":"bsc_06","v":52},{"r":"eil51_05","c":"bsc_07","v":53},{"r":"eil51_05","c":"bsc_08","v":57},{"r":"eil51_05","c":"bsc_09","v":63},{"r":"eil51_05","c":"bsc_10","v":65},
{"r":"eil51_05","c":"unc_01","v":34},{"r":"eil51_05","c":"unc_02","v":34},{"r":"eil51_05","c":"unc_03","v":24},{"r":"eil51_05","c":"unc_04","v":44},{"r":"eil51_05","c":"unc_05","v":82},{"r":"eil51_05","c":"unc_06","v":28},{"r":"eil51_05","c":"unc_07","v":20},{"r":"eil51_05","c":"unc_08","v":24},{"r":"eil51_05","c":"unc_09","v":23},{"r":"eil51_05","c":"unc_10","v":10},
{"r":"eil51_05","c":"usw_01","v":58},{"r":"eil51_05","c":"usw_02","v":66},{"r":"eil51_05","c":"usw_03","v":80},{"r":"eil51_05","c":"usw_04","v":93},{"r":"eil51_05","c":"usw_05","v":90},{"r":"eil51_05","c":"usw_06","v":90},{"r":"eil51_05","c":"usw_07","v":47},{"r":"eil51_05","c":"usw_08","v":90},{"r":"eil51_05","c":"usw_09","v":90},{"r":"eil51_05","c":"usw_10","v":31},
{"r":"eil51_03","c":"bsc_01","v":82},{"r":"eil51_03","c":"bsc_02","v":50},{"r":"eil51_03","c":"bsc_03","v":56},{"r":"eil51_03","c":"bsc_04","v":55},{"r":"eil51_03","c":"bsc_05","v":52},{"r":"eil51_03","c":"bsc_06","v":52},{"r":"eil51_03","c":"bsc_07","v":52},{"r":"eil51_03","c":"bsc_08","v":48},{"r":"eil51_03","c":"bsc_09","v":48},{"r":"eil51_03","c":"bsc_10","v":50},
{"r":"eil51_03","c":"unc_01","v":37},{"r":"eil51_03","c":"unc_02","v":60},{"r":"eil51_03","c":"unc_03","v":79},{"r":"eil51_03","c":"unc_04","v":48},{"r":"eil51_03","c":"unc_05","v":37},{"r":"eil51_03","c":"unc_06","v":80},{"r":"eil51_03","c":"unc_07","v":78},{"r":"eil51_03","c":"unc_08","v":78},{"r":"eil51_03","c":"unc_09","v":78},{"r":"eil51_03","c":"unc_10","v":48},
{"r":"eil51_03","c":"usw_01","v":37},{"r":"eil51_03","c":"usw_02","v":37},{"r":"eil51_03","c":"usw_03","v":40},{"r":"eil51_03","c":"usw_04","v":60},{"r":"eil51_03","c":"usw_05","v":76},{"r":"eil51_03","c":"usw_06","v":28},{"r":"eil51_03","c":"usw_07","v":61},{"r":"eil51_03","c":"usw_08","v":37},{"r":"eil51_03","c":"usw_09","v":55},{"r":"eil51_03","c":"usw_10","v":54},
{"r":"eil51_01","c":"bsc_01","v":42},{"r":"eil51_01","c":"bsc_02","v":28},{"r":"eil51_01","c":"bsc_03","v":32},{"r":"eil51_01","c":"bsc_04","v":28},{"r":"eil51_01","c":"bsc_05","v":30},{"r":"eil51_01","c":"bsc_06","v":70},{"r":"eil51_01","c":"bsc_07","v":70},{"r":"eil51_01","c":"bsc_08","v":22},{"r":"eil51_01","c":"bsc_09","v":40},{"r":"eil51_01","c":"bsc_10","v":24},
{"r":"eil51_01","c":"unc_01","v":37},{"r":"eil51_01","c":"unc_02","v":72},{"r":"eil51_01","c":"unc_03","v":76},{"r":"eil51_01","c":"unc_04","v":28},{"r":"eil51_01","c":"unc_05","v":47},{"r":"eil51_01","c":"unc_06","v":8},{"r":"eil51_01","c":"unc_07","v":47},{"r":"eil51_01","c":"unc_08","v":47},{"r":"eil51_01","c":"unc_09","v":46},{"r":"eil51_01","c":"unc_10","v":70},
{"r":"eil51_01","c":"usw_01","v":49},{"r":"eil51_01","c":"usw_02","v":40},{"r":"eil51_01","c":"usw_03","v":31},{"r":"eil51_01","c":"usw_04","v":33},{"r":"eil51_01","c":"usw_05","v":57},{"r":"eil51_01","c":"usw_06","v":45},{"r":"eil51_01","c":"usw_07","v":48},{"r":"eil51_01","c":"usw_08","v":72},{"r":"eil51_01","c":"usw_09","v":72},{"r":"eil51_01","c":"usw_10","v":72}
]},
"mark":{"type":"rect","stroke":"#ffffff","strokeWidth":0.6,"strokeOpacity":0.2},
"encoding":{
"x":{"field":"c","type":"nominal","sort":null,"title":null,"scale":{"paddingInner":0,"paddingOuter":0},"axis":{"labelAngle":-65,"labelFontSize":10,"labelColor":"#666666","ticks":false,"domain":false,"labelPadding":4}},
"y":{"field":"r","type":"nominal","sort":null,"title":null,"scale":{"paddingInner":0,"paddingOuter":0},"axis":{"labelFontSize":10.5,"labelColor":"#666666","ticks":false,"domain":false,"labelPadding":5}},
"color":{"field":"v","type":"quantitative","scale":{"domain":[0,52,100],"range":["#fffdf8","#ffa500","#c2443a"],"interpolate":"rgb"},"legend":{"title":null,"gradientLength":427,"gradientThickness":11,"labelColor":"#666666","labelFontSize":10.5,"labelOffset":12,"offset":5,"values":[0,10,20,30,40,50,60,70,80,90,100],"gradientStrokeWidth":0}}
}}
